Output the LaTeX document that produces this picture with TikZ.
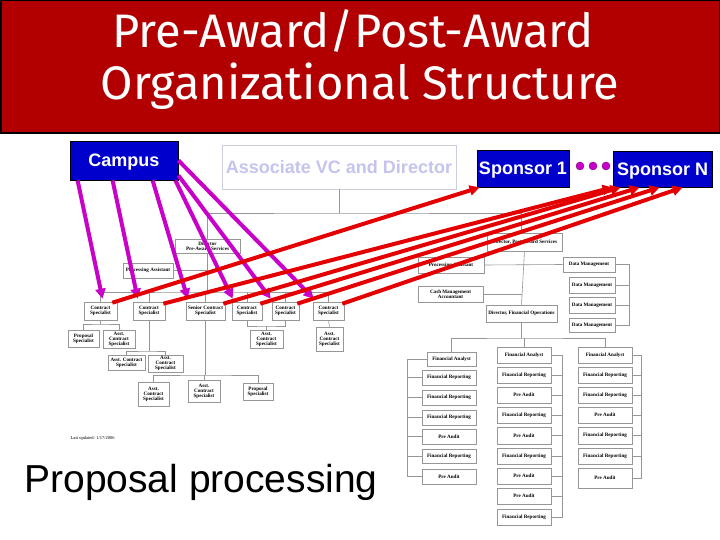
\documentclass[tikz,border=0pt]{standalone}
\usepackage{fontspec}
\setmainfont{Liberation Sans}
\newfontfamily\titlefont{Fira Sans}
\newfontfamily\chartfont{Liberation Serif}
\usetikzlibrary{arrows.meta,calc}
\definecolor{hdr}{RGB}{178,0,0}
\definecolor{campblue}{RGB}{0,0,204}
\definecolor{avctext}{RGB}{196,196,238}
\definecolor{avcborder}{RGB}{205,205,220}
\definecolor{mag}{RGB}{200,0,200}
\definecolor{redline}{RGB}{228,0,0}
\definecolor{chartline}{RGB}{150,150,150}
\newcommand\obox[6]{\node[ob,minimum width={(#4-#2)*1pt},minimum height={(#5-#3)*1pt}] (#1) at ({(#2+#4)/2},{(#3+#5)/2}) {#6};}
\begin{document}
\begin{tikzpicture}[x=1pt,y=-1pt,
 ob/.style={draw=chartline, line width=0.6pt, fill=white, inner sep=0pt, align=center, font=\chartfont\bfseries\fontsize{5.1}{5.0}\selectfont},
 cl/.style={draw=chartline, line width=0.6pt},
 topbox/.style={draw=black, line width=0.8pt, fill=campblue, text=white, font=\bfseries\fontsize{18}{20}\selectfont, inner sep=0pt, text height=13pt, text depth=0pt},
 magarrow/.style={draw=mag, line width=4pt, -{Triangle[length=10pt,width=10pt]}},
 redarrow/.style={draw=redline, line width=4pt, -{Triangle[length=10pt,width=10pt]}},
 titletext/.style={anchor=base, font=\titlefont\fontsize{47}{50}\selectfont, text=white}
]
\useasboundingbox (0,0) rectangle (720,540);
\fill[white] (0,0) rectangle (720,540);
% header
\draw[fill=hdr, draw=black, line width=1.5pt] (0.75,0.75) rectangle (719.25,133);
\node[titletext] (t1) at (353,48) {Pre-Award/Post-Award};
\node[titletext] (t2) at (360,100) {Organizational Structure};

% top boxes
\node[topbox, minimum width=108pt, minimum height=39pt] (campus) at (124,160.5) {Campus};
\node[draw=avcborder, line width=0.8pt, minimum width=234pt, minimum height=44pt, inner sep=0pt, text height=13pt, text depth=0pt, text=avctext, font=\bfseries\fontsize{18}{20}\selectfont] (avc) at (339,167) {Associate VC and Director};
\node[topbox, minimum width=92pt, minimum height=37pt] (s1) at (523,168.5) {Sponsor 1};
\node[topbox, minimum width=99pt, minimum height=36pt] (sn) at (662.5,169) {Sponsor N};
\foreach \x in {580,593,606} \fill[mag, draw=mag!60!black, line width=0.4pt] (\x,166) circle[radius=4pt];

% left chart
\obox{dirpre}{175}{239}{240}{253}{Director\\Pre-Award Services}
\obox{pa1}{123}{263}{173}{278}{Processing Assistant}
\obox{cs1}{84}{302}{117}{320}{Contract\\Specialist}
\obox{cs2}{133}{302}{165}{320}{Contract\\Specialist}
\obox{cs3}{186}{302}{225}{320}{Senior Contract\\Specialist}
\obox{cs4}{232}{302}{262}{320}{Contract\\Specialist}
\obox{cs5}{272}{302}{299}{320}{Contract\\Specialist}
\obox{cs6}{313}{302}{344}{320}{Contract\\Specialist}
\obox{ps1}{68}{330}{99}{347}{Proposal\\Specialist}
\obox{as1}{103}{330}{135}{348}{Asst.\\Contract\\Specialist}
\obox{as45}{250}{330}{283}{348}{Asst.\\Contract\\Specialist}
\obox{as6}{316}{327}{343}{351}{Asst.\\Contract\\Specialist}
\obox{as2a}{108}{355}{145}{370}{Asst. Contract\\Specialist}
\obox{as2b}{148}{355}{183}{372}{Asst.\\Contract\\Specialist}
\obox{as3a}{138}{382}{169}{406}{Asst.\\Contract\\Specialist}
\obox{as3b}{188}{380}{220}{402}{Asst.\\Contract\\Specialist}
\obox{ps3}{243}{383}{273}{400}{Proposal\\Specialist}
\node[anchor=west, font=\chartfont\fontsize{4.5}{5}\selectfont] (lu) at (67,438) {Last updated: 1/17/2006};

\coordinate (j1) at (339,213);
\draw[cl] (avc.south) -- (j1);
\draw[cl] (dirpre.north) |- (j1) -| (521.5,233);
\coordinate (j2) at (207.5,292);
\draw[cl] (dirpre.south) -- (j2);
\draw[cl] (pa1.east) -- (pa1.east -| j2);
\draw[cl] (cs1.north) |- (j2) -| (cs6.north);
\foreach \n in {cs2,cs3,cs4,cs5} \draw[cl] (\n.north) -- (\n.north |- j2);
\coordinate (j3) at (100.5,324);
\draw[cl] (cs1.south) -- (j3);
\draw[cl] (ps1.north) |- (j3) -| (as1.north);
\coordinate (j4) at (149,351);
\draw[cl] (cs2.south) -- (j4);
\draw[cl] (as2a.north) |- (j4) -| (as2b.north);
\coordinate (j5) at (205.5,375);
\draw[cl] (cs3.south) -- (j5);
\draw[cl] (as3a.north) |- (j5) -| (ps3.north);
\draw[cl] (as3b.north) -- (as3b.north |- j5);
\coordinate (j6) at (266.5,326);
\draw[cl] (cs4.south) |- (j6) -| (cs5.south);
\draw[cl] (j6) -- (as45.north);
\draw[cl] (cs6.south) -- (as6.north);

% right chart
\obox{dirpost}{487}{233}{562}{251}{Director, Post-Award Services}
\obox{pa2}{418}{257}{484}{273}{Processing Assistant}
\obox{cma}{418}{286}{483}{302}{Cash Management\\Accountant}
\obox{dfo}{486}{305}{557}{322}{Director, Financial Operations}
\obox{dm1}{563}{257}{615}{272}{Data Management}
\obox{dm2}{569}{277}{615}{293}{Data Management}
\obox{dm3}{569}{297}{615}{313}{Data Management}
\obox{dm4}{569}{318}{615}{332}{Data Management}

\obox{a1}{427}{352}{476}{366}{Financial Analyst}
\obox{a2}{422}{370}{476}{385}{Financial Reporting}
\obox{a3}{422}{390}{476}{405}{Financial Reporting}
\obox{a4}{422}{410}{476}{425}{Financial Reporting}
\obox{a5}{422}{429}{476}{444}{Pre Audit}
\obox{a6}{422}{449}{476}{463}{Financial Reporting}
\obox{a7}{422}{469}{476}{484}{Pre Audit}

\obox{b1}{497}{347}{551}{363}{Financial Analyst}
\obox{b2}{497}{367}{551}{383}{Financial Reporting}
\obox{b3}{497}{387}{551}{403}{Pre Audit}
\obox{b4}{497}{407}{551}{423}{Financial Reporting}
\obox{b5}{497}{427}{551}{444}{Pre Audit}
\obox{b6}{497}{448}{551}{464}{Financial Reporting}
\obox{b7}{497}{468}{551}{484}{Pre Audit}
\obox{b8}{497}{488}{551}{504}{Pre Audit}
\obox{b9}{497}{509}{551}{525}{Financial Reporting}

\obox{c1}{578}{347}{632}{363}{Financial Analyst}
\obox{c2}{578}{367}{632}{383}{Financial Reporting}
\obox{c3}{578}{387}{632}{403}{Financial Reporting}
\obox{c4}{578}{407}{632}{423}{Pre Audit}
\obox{c5}{578}{427}{632}{444}{Financial Reporting}
\obox{c6}{578}{448}{632}{464}{Financial Reporting}
\obox{c7}{578}{468}{632}{488}{Pre Audit}

\draw[cl] (dirpost.south) -- (dfo.north);
\draw[cl] (pa2.east) -- (dm1.west);
\draw[cl] (cma.east) -- (cma.east -| dfo.north);
\coordinate (j7) at (521.5,338);
\draw[cl] (dfo.south) -- (j7);
\draw[cl] (a1.north) |- (j7) -| (c1.north);
\draw[cl] (b1.north) -- (b1.north |- j7);
\coordinate (k1) at (629,264.5);
\draw[cl] (dm1.east) -- (k1) -- (k1 |- dm4.east) -- (dm4.east);
\foreach \n in {dm2,dm3} \draw[cl] (\n.east) -- (\n.east -| k1);
\coordinate (k2) at (407,359);
\draw[cl] (a1.west) -- (k2) -- (k2 |- a7.west) -- (a7.west);
\foreach \n in {a2,a3,a4,a5,a6} \draw[cl] (\n.west) -- (\n.west -| k2);
\coordinate (k3) at (562,355);
\draw[cl] (b1.east) -- (k3) -- (k3 |- b9.east) -- (b9.east);
\foreach \n in {b2,b3,b4,b5,b6,b7,b8} \draw[cl] (\n.east) -- (\n.east -| k3);
\coordinate (k4) at (641,355);
\draw[cl] (c1.east) -- (k4) -- (k4 |- c7.east) -- (c7.east);
\foreach \n in {c2,c3,c4,c5,c6} \draw[cl] (\n.east) -- (\n.east -| k4);

% bottom label
\node[anchor=base, font=\fontsize{39}{44}\selectfont] (pp) at (201,492) {Proposal processing};

% magenta arrows
\draw[magarrow] ([xshift=8pt]campus.south west) -- ([xshift=2pt,yshift=3pt]cs1.north);
\draw[magarrow] ([xshift=43pt]campus.south west) -- ([xshift=5pt,yshift=3pt]cs2.north west);
\draw[magarrow] ([xshift=83pt]campus.south west) -- ([xshift=2pt,yshift=3pt]cs3.north west);
\draw[magarrow] ([xshift=-3pt]campus.south east) -- ([xshift=1pt,yshift=3pt]cs4.north west);
\draw[magarrow] ([yshift=5pt]campus.south east) -- ([xshift=-1pt,yshift=3pt]cs5.north west);
\draw[magarrow] ([yshift=20pt]campus.south east) -- ([xshift=1pt,yshift=3pt]cs6.north west);

% red arrows
\draw[redarrow] ([xshift=-5pt,yshift=-1pt]cs1.north east) -- ([xshift=3pt]s1.south west);
\draw[redarrow] ([xshift=-2pt,yshift=-2pt]cs2.north east) -- ([xshift=0pt]sn.south west);
\draw[redarrow] ([xshift=-2pt,yshift=-2pt]cs3.north east) -- ([xshift=8pt]sn.south west);
\draw[redarrow] ([xshift=-2pt,yshift=-2pt]cs4.north east) -- ([xshift=27pt]sn.south west);
\draw[redarrow] ([xshift=-2pt,yshift=-2pt]cs5.north east) -- ([xshift=47pt]sn.south west);
\draw[redarrow] ([xshift=-2pt,yshift=-2pt]cs6.north east) -- ([xshift=70pt]sn.south west);
\end{tikzpicture}
\end{document}
